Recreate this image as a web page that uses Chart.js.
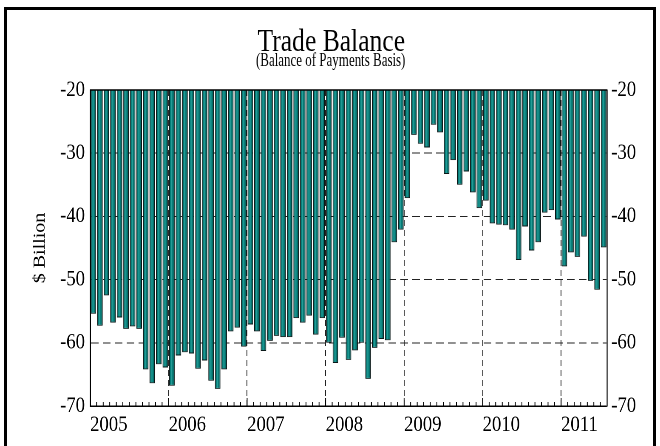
<!DOCTYPE html>
<html>
<head>
<meta charset="utf-8">
<script src="https://cdn.jsdelivr.net/npm/chart.js@4.4.0/dist/chart.umd.min.js"></script>
<style>
  html, body { margin: 0; padding: 0; background: #fff; overflow: hidden; }
  #wrap { position: absolute; left: 0; top: 0; width: 776px; height: 446px; transform: scaleX(0.85); transform-origin: 0 0; }
  #frame { position: absolute; left: 4px; top: 7px; width: 652px; height: 470px; border: 3px solid #000; box-sizing: border-box; pointer-events: none; }
  .head { position: absolute; left: 0; width: 662px; text-align: center; font-family: 'Liberation Serif', 'Times New Roman', serif; color: #000; white-space: nowrap; }
  .head span { display: inline-block; }
  #title { top: 24px; font-size: 32px; line-height: 32px; }
  #title span { transform: scaleX(0.8); }
  #subtitle { top: 51px; font-size: 18px; line-height: 18px; }
  #subtitle span { transform: scaleX(0.72); }
</style>
</head>
<body>
<div id="wrap"><canvas id="tradeChart" width="776" height="446"></canvas></div>
<div class="head" id="title"><span>Trade Balance</span></div>
<div class="head" id="subtitle"><span>(Balance of Payments Basis)</span></div>
<div id="frame"></div>
<script>
// monthly trade balance, $ billion, Jan 2005 - Jul 2011
const years = ['2005', '2006', '2007', '2008', '2009', '2010', '2011'];
const bal2005 = [-55.4, -57.3, -52.5, -56.8, -56.0, -57.8, -57.4, -57.8, -64.2, -66.4, -63.4, -63.9];
const bal2006 = [-66.8, -62.0, -61.5, -61.7, -64.1, -62.8, -66.0, -67.3, -64.2, -58.2, -57.6, -60.6];
const bal2007 = [-57.1, -58.2, -61.3, -59.7, -58.9, -59.1, -59.1, -56.1, -56.8, -55.7, -58.7, -56.1];
const bal2008 = [-60.0, -63.2, -59.2, -62.7, -61.2, -60.0, -65.7, -60.8, -59.4, -59.6, -44.1, -42.1];
const bal2009 = [-37.1, -27.1, -28.5, -29.1, -25.5, -26.7, -33.3, -31.1, -35.0, -32.9, -36.2, -38.7];
const bal2010 = [-37.5, -41.1, -41.3, -41.4, -42.1, -46.9, -41.6, -45.4, -44.1, -39.4, -39.0, -40.5];
const bal2011 = [-47.9, -45.7, -46.4, -43.2, -50.2, -51.6, -44.9];
const yTicks = [-70, -60, -50, -40, -30, -20];

const balance = [].concat(bal2005, bal2006, bal2007, bal2008, bal2009, bal2010, bal2011);
const points = balance.map((v, i) => ({ x: i + 0.5, y: v }));

const serif = "'Liberation Serif', 'Times New Roman', serif";
const teal = '#00807b';
const clear = 'rgba(0,0,0,0)';

function barFill(c) {
    if (c.type !== 'data') return teal;
    const chart = c.chart;
    const xs = chart.scales.x;
    if (!xs || !chart.chartArea) return teal;
    const cx = xs.getPixelForValue(c.dataIndex + 0.5);
    const w = xs.getPixelForValue(1) - xs.getPixelForValue(0);
    if (!isFinite(cx) || !isFinite(w)) return teal;
    const g = chart.ctx.createLinearGradient(cx - w * 0.42, 0, cx + w * 0.42, 0);
    g.addColorStop(0, '#005450');
    g.addColorStop(0.3, '#07847f');
    g.addColorStop(0.45, '#2a9f9a');
    g.addColorStop(0.6, '#067f7a');
    g.addColorStop(1, '#00504c');
    return g;
}

// top border and month tick marks along the bottom axis
const plotExtras = {
    id: 'plotExtras',
    afterDatasetsDraw(chart) {
        const { ctx, chartArea: a, scales: { x } } = chart;
        ctx.save();
        ctx.strokeStyle = '#000';
        ctx.lineWidth = 1.5;
        ctx.beginPath();
        ctx.moveTo(a.left, a.top);
        ctx.lineTo(a.right, a.top);
        ctx.stroke();
        ctx.lineWidth = 1;
        ctx.beginPath();
        for (let i = 1; i < balance.length; i++) {
            const px = x.getPixelForValue(i);
            const len = i % 12 === 0 ? 8 : 4;
            ctx.moveTo(px, a.bottom);
            ctx.lineTo(px, a.bottom - len);
        }
        ctx.stroke();
        ctx.restore();
    }
};

const yTickOpts = (pad) => ({
    stepSize: 10,
    padding: pad,
    color: '#000',
    font: { family: serif, size: 22 },
    callback: (v) => yTicks.includes(v) ? String(v) : ''
});

const ctx = document.getElementById('tradeChart').getContext('2d');
const tradeChart = new Chart(ctx, {
    type: 'bar',
    data: {
        datasets: [{
            label: 'Trade Balance',
            data: points,
            backgroundColor: barFill,
            borderColor: '#0a1818',
            borderWidth: 1,
            barPercentage: 0.85,
            categoryPercentage: 1.0,
        }]
    },
    options: {
        responsive: false,
        animation: false,
        devicePixelRatio: 2,
        layout: { padding: { top: 90, left: 0, right: 0, bottom: 0 } },
        plugins: {
            legend: { display: false },
            tooltip: { enabled: false },
            title: { display: false },
            subtitle: { display: false }
        },
        scales: {
            x: {
                type: 'linear',
                min: 0,
                max: balance.length,
                offset: false,
                ticks: {
                    stepSize: 1,
                    autoSkip: false,
                    maxRotation: 0,
                    minRotation: 0,
                    align: 'start',
                    padding: 6,
                    color: '#000',
                    font: { family: serif, size: 22 },
                    callback: (v) => (v % 12 === 0 && v / 12 < years.length) ? years[v / 12] : ''
                },
                grid: {
                    offset: false,
                    drawTicks: false,
                    lineWidth: 1,
                    color: (c) => (c.tick && c.tick.value % 12 === 0 && c.tick.value > 0 && c.tick.value < balance.length) ? '#222' : clear
                },
                border: { color: '#000', width: 1.5, dash: [6, 4] },
                afterFit: (s) => { s.height = 40; }
            },
            y: {
                type: 'linear',
                position: 'left',
                min: -70,
                max: -20,
                ticks: yTickOpts(6),
                grid: {
                    drawTicks: false,
                    lineWidth: 1,
                    color: (c) => (c.tick && (c.tick.value === -20 || c.tick.value === -70)) ? clear : '#222'
                },
                border: { color: '#000', width: 1.5, dash: [9, 5] },
                title: {
                    display: true,
                    text: '$ Billion',
                    color: '#000',
                    font: { family: serif, size: 20 },
                    padding: { top: 35, bottom: 0 }
                },
                afterFit: (s) => { s.width = 106; }
            },
            y2: {
                type: 'linear',
                position: 'right',
                min: -70,
                max: -20,
                ticks: yTickOpts(5),
                grid: { drawOnChartArea: false, drawTicks: false },
                border: { color: '#555', width: 1.5 },
                afterFit: (s) => { s.width = 62; }
            }
        }
    },
    plugins: [plotExtras]
});
</script>
</body>
</html>
